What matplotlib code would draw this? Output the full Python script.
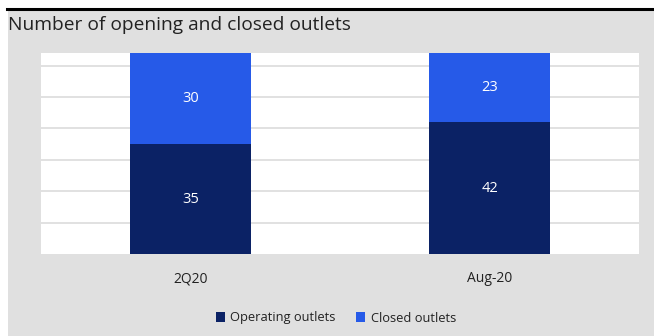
import matplotlib.pyplot as plt
from matplotlib.patches import Rectangle

categories = ["2Q20", "Aug-20"]
operating = [35, 42]
closed = [30, 23]

navy = "#0b2265"
blue = "#265ae8"
bg = "#e0e0e0"

plt.rcParams["font.family"] = ["Open Sans", "DejaVu Sans"]

fig = plt.figure(figsize=(6.54, 3.36), dpi=100)
fig.patch.set_facecolor("white")

# gray panel with black rule on top
W, H = 654, 336
fig.patches.append(Rectangle((8 / W, 0), 1, 1 - 10 / H, transform=fig.transFigure,
                             facecolor=bg, edgecolor="none", zorder=-5))
fig.add_artist(plt.Line2D([7 / W, 1], [1 - 8.5 / H, 1 - 8.5 / H], transform=fig.transFigure,
                          color="black", linewidth=2.2))

ax = fig.add_axes([41 / W, 1 - 254 / H, 598 / W, 201 / H])
ax.set_zorder(2)
ax.set_facecolor("white")

x = range(len(categories))
b1 = ax.bar(x, operating, width=0.405, color=navy, zorder=3)
b2 = ax.bar(x, closed, width=0.405, bottom=operating, color=blue, zorder=3)

for bars, vals, bottoms in [(b1, operating, [0, 0]), (b2, closed, operating)]:
    for rect, v, b in zip(bars, vals, bottoms):
        top = min(b + v, 64)
        ax.text(rect.get_x() + rect.get_width() / 2, (b + top) / 2, str(v),
                ha="center", va="center", color="white", fontsize=10.5, zorder=4)

ax.set_xlim(-0.5, 1.5)
ax.set_ylim(0, 64)
ax.set_yticks(range(10, 61, 10))
ax.yaxis.grid(True, color="#dcdcdc", linewidth=1.2)
ax.set_axisbelow(True)
ax.tick_params(axis="y", left=False, labelleft=False)
ax.tick_params(axis="x", bottom=False, pad=9, labelsize=10, colors="#222222")
ax.set_xticks(list(x))
ax.set_xticklabels(categories)
for s in ax.spines.values():
    s.set_visible(False)

fig.text(8 / W, 1 - 25 / H, "Number of opening and closed outlets", fontsize=13.8,
         va="center", ha="left", color="#222222")

leg = fig.legend([b1, b2], ["Operating outlets", "Closed outlets"], loc="center",
                 bbox_to_anchor=(336 / W, 1 - 318 / H), ncol=2, frameon=False,
                 fontsize=9.3, handlelength=0.7, handleheight=0.7, handletextpad=0.4,
                 columnspacing=1.6)
for t in leg.get_texts():
    t.set_color("#222222")

fig.savefig("out.png", dpi=100, facecolor=fig.get_facecolor())
